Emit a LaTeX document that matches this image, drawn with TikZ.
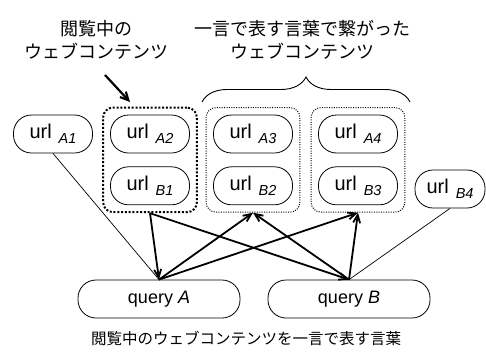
\documentclass[tikz,border=0pt]{standalone}
\usepackage{fontspec}
\setmainfont{Liberation Sans}
\newfontfamily\lsans{Liberation Sans}
\newfontfamily\jp{Noto Sans CJK JP}
\usetikzlibrary{positioning,fit,decorations.pathreplacing,arrows.meta}

\newcommand{\ulabel}[1]{url\hspace{0.35em}\raisebox{-0.5ex}{\fontsize{14.5}{14.5}\selectfont\itshape #1}}

\begin{document}
\begin{tikzpicture}[x=1pt,y=-1pt,
    every node/.style={font=\lsans\fontsize{20}{22}\selectfont},
    urlbox/.style={draw,line width=0.8pt,rounded corners=18pt,minimum width=79pt,minimum height=38pt,inner sep=0pt},
    querybox/.style={draw,line width=0.8pt,rounded corners=18pt,minimum width=162pt,minimum height=38pt,inner sep=0pt,font=\lsans\fontsize{18}{20}\selectfont},
    groupbox/.style={draw,line width=1pt,dash pattern=on 1pt off 1.4pt,rounded corners=10pt,inner sep=7pt},
    viewbox/.style={draw,line width=2pt,dash pattern=on 2pt off 1.8pt,rounded corners=10pt,inner sep=7pt},
    jptext/.style={font=\jp\fontsize{18}{23}\selectfont,align=center,inner sep=0pt},
    link/.style={line width=1.8pt,-{Straight Barb[length=8pt,width=7pt]}},
    thin link/.style={line width=0.7pt}]
    \useasboundingbox (0,0) rectangle (486,356);
    % url nodes
    \node[urlbox] (a1) at (53,134) {\ulabel{A1}};
    \node[urlbox] (a2) at (150,134) {\ulabel{A2}};
    \node[urlbox] (a3) at (253,134) {\ulabel{A3}};
    \node[urlbox] (a4) at (358,134) {\ulabel{A4}};
    \node[urlbox,below=13pt of a2] (b1) {\ulabel{B1}};
    \node[urlbox,below=13pt of a3] (b2) {\ulabel{B2}};
    \node[urlbox,below=13pt of a4] (b3) {\ulabel{B3}};
    \node[urlbox,minimum width=70pt] (b4) at (450,189) {\ulabel{B4}};
    % groups
    \node[viewbox,fit=(a2)(b1)] (g1) {};
    \node[groupbox,fit=(a3)(b2)] (g2) {};
    \node[groupbox,fit=(a4)(b3)] (g3) {};
    % queries
    \node[querybox] (qa) at (159,299) {query \textit{A}};
    \node[querybox] (qb) at (349,299) {query \textit{B}};
    % labels
    \node[jptext] (view) at (96,40) {閲覧中の\\ウェブコンテンツ};
    \node[jptext] (linked) at (302,40) {一言で表す言葉で繋がった\\ウェブコンテンツ};
    \node[jptext,font=\jp\fontsize{15.5}{18}\selectfont] (word) at (246,338) {閲覧中のウェブコンテンツを一言で表す言葉};
    \coordinate (ptr) at (105,75);
    \coordinate (ptrend) at (130,102);
    \draw[line width=2.2pt,-{Straight Barb[length=8pt,width=8pt]}] (ptr) -- (ptrend);
    \draw[line width=0.9pt,decorate,decoration={brace,amplitude=25pt,raise=0pt}] (202,102) -- (410,102);
    % connectors
    \path (g1.south) edge[link] (qa.north)
          (g1.south) edge[link] (qb.north)
          (qa.north) edge[link] (g2.south)
          (qa.north) edge[link] (g3.south)
          (qb.north) edge[link] (g2.south)
          (qb.north) edge[link] (g3.south)
          (a1.south) edge[thin link] (qa.north)
          (b4.south) edge[thin link] (qb.north);
\end{tikzpicture}
\end{document}
